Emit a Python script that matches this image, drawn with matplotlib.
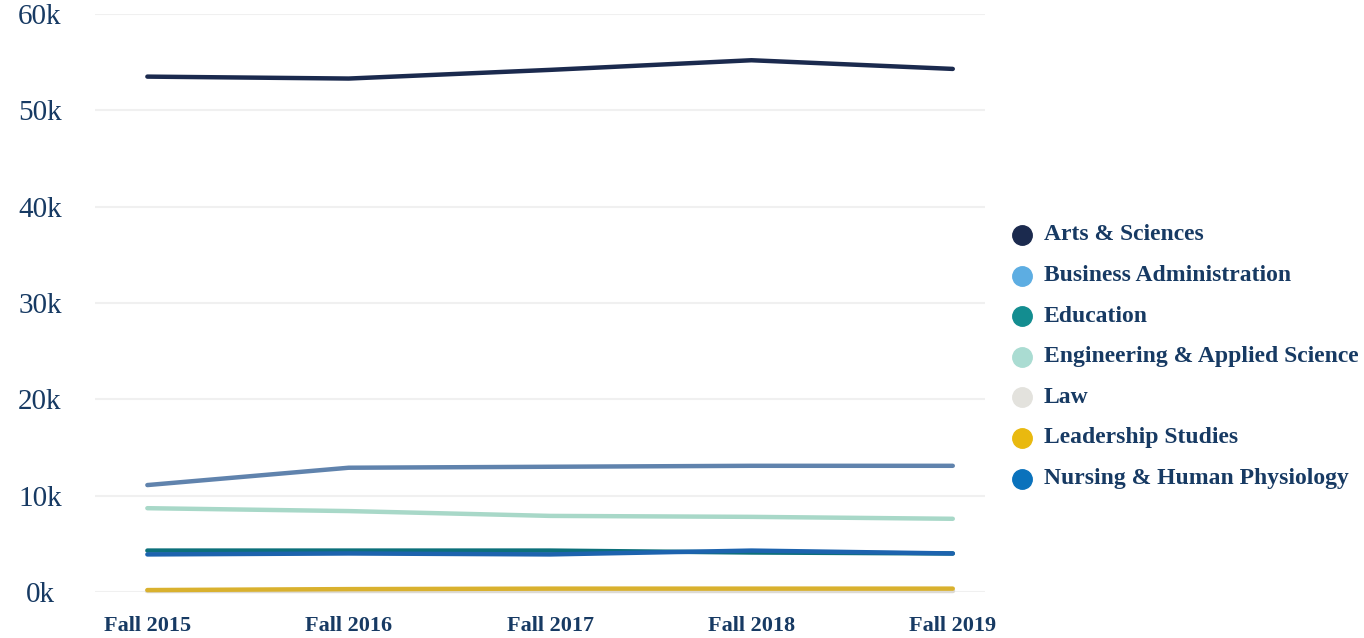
import matplotlib
matplotlib.use("Agg")
import matplotlib.pyplot as plt
from matplotlib.lines import Line2D

years = ["Fall 2015", "Fall 2016", "Fall 2017", "Fall 2018", "Fall 2019"]
schools = ["Arts & Sciences", "Business Administration", "Education",
           "Engineering & Applied Science", "Law", "Leadership Studies",
           "Nursing & Human Physiology"]
arts = [53500, 53300, 54200, 55200, 54300]
business = [11100, 12900, 13000, 13100, 13100]
education = [4300, 4300, 4300, 4100, 4000]
engineering = [8700, 8400, 7900, 7800, 7600]
law = [150, 150, 150, 150, 150]
leadership = [200, 300, 350, 350, 350]
nursing = [3900, 4000, 3900, 4300, 4000]
yticks = [0, 10000, 20000, 30000, 40000, 50000, 60000]
ytick_labels = ["0k", "10k", "20k", "30k", "40k", "50k", "60k"]

series = [arts, business, education, engineering, law, leadership, nursing]
legend_colors = ["#1b2a4e", "#5dade2", "#138d90", "#aadcd2", "#e3e2dd", "#e9b90f", "#0a72bc"]
line_colors = ["#1b2a4e", "#6083ad", "#0c707a", "#a8d8c8", "#dcdad4", "#d9b12e", "#1d63ae"]
draw_order = [4, 5, 3, 1, 2, 6, 0]

W, H = 1364, 638
fig = plt.figure(figsize=(W / 100, H / 100), dpi=100)
ax = fig.add_axes([95 / W, (H - 592) / H, 890 / W, 578 / H])
text_color = "#173a63"
serif = ["Liberation Serif", "DejaVu Serif"]

x = list(range(len(years)))
for i in draw_order:
    ax.plot(x, series[i], color=line_colors[i], lw=3.2, solid_capstyle="round",
            clip_on=False, zorder=3)

ax.set_xlim(-0.26, 4.16)
ax.set_ylim(0, 60000)
ax.set_yticks(yticks)
ax.set_yticklabels(ytick_labels)
ax.set_xticks(x)
ax.set_xticklabels(years)
for s in ax.spines.values():
    s.set_visible(False)
ax.grid(axis="y", color="#f0f0f0", lw=1.5)
ax.tick_params(length=0)
ax.tick_params(axis="x", pad=17)
ax.tick_params(axis="y", pad=0)
for lab in ax.get_yticklabels():
    lab.set_fontfamily(serif)
    lab.set_fontsize(21)
    lab.set_color(text_color)
    lab.set_horizontalalignment("center")
    lab.set_x(-55 / 890)
for lab in ax.get_xticklabels():
    lab.set_fontfamily(serif)
    lab.set_fontsize(16)
    lab.set_fontweight("bold")
    lab.set_color(text_color)

# legend
y0 = 235
for i, name in enumerate(schools):
    yy = (H - (y0 + i * 40.6)) / H
    fig.add_artist(Line2D([1022 / W], [yy], marker="o", markersize=14,
                          color=legend_colors[i], lw=0, transform=fig.transFigure))
    fig.text(1044 / W, yy, name, fontsize=17, fontweight="bold", family=serif,
             color=text_color, va="center", ha="left")

fig.savefig("out.png", dpi=100, facecolor="white")
